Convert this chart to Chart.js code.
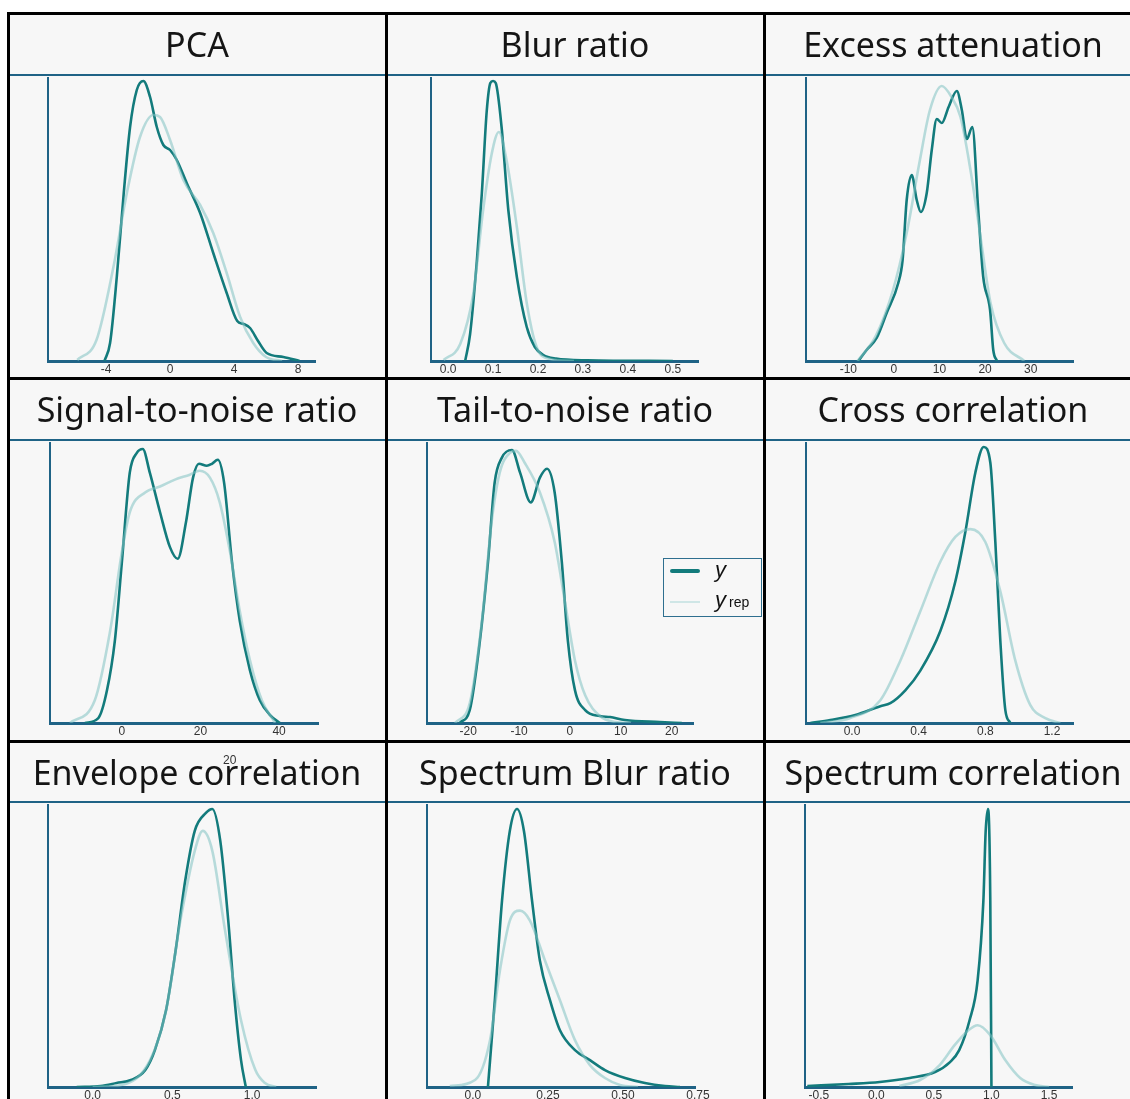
<!DOCTYPE html>
<html>
<head>
<meta charset="utf-8">
<script src="https://cdn.jsdelivr.net/npm/chart.js@4.4.1/dist/chart.umd.min.js"></script>
<style>
  body { margin:0; width:1130px; height:1099px; overflow:hidden; position:relative; background:#fff; font-family:"Noto Sans", sans-serif; }
  #fig { position:absolute; left:8px; top:12px; width:1140px; height:1100px; background:#f7f7f7; }
  .title { position:absolute; text-align:center; font-size:34px; color:#151515; white-space:nowrap; }
  .line { position:absolute; }
  canvas { position:absolute; }
  #legend { position:absolute; left:663px; top:558px; width:97px; height:57px; border:1.5px solid #2e6f8f; background:#f7f7f7; }
  #legend .sw { position:absolute; left:6px; width:30px; }
  #legend .lab { position:absolute; left:51px; font-family:"Liberation Sans", sans-serif; font-style:italic; font-size:22px; color:#111; }
  #legend sub { font-style:normal; font-size:14px; vertical-align:baseline; margin-left:3px; }
  #stray { position:absolute; z-index:5; left:223px; top:753px; font-family:"Liberation Sans", sans-serif; font-size:12px; color:#333; }
</style>
</head>
<body>
<div id="fig"></div>
<div id="stray">20</div>
<script>
// panel titles
var titles = ["PCA", "Blur ratio", "Excess attenuation",
              "Signal-to-noise ratio", "Tail-to-noise ratio", "Cross correlation",
              "Envelope correlation", "Spectrum Blur ratio", "Spectrum correlation"];

// observed density (y) and replicated density (y rep), relative heights
var pcaX    = [-4.1, -3.75, -3.33, -2.9, -2.5, -2.08, -1.67, -1.25, -0.83, -0.42, 0, 0.42, 1.04, 1.88, 2.7, 3.54, 4.2, 4.6, 5.0, 5.5, 6.04, 7.08, 8.1];
var pcaY    = [0, 18, 84, 167, 234, 271, 280, 264, 234, 216, 211, 201, 178, 148, 108, 68, 40, 37, 33, 20, 8, 4, 0];
var pcaRepX = [-5.8, -4.6, -3.54, -2.7, -1.88, -1.04, -0.63, 0, 0.83, 1.88, 2.7, 3.54, 4.38, 5.2, 6.0, 7.0];
var pcaRep  = [1, 21, 94, 168, 224, 246, 244, 221, 181, 156, 128, 88, 44, 18, 4, 0];

var blurX    = [0.038, 0.049, 0.064, 0.075, 0.086, 0.094, 0.1, 0.106, 0.119, 0.134, 0.153, 0.175, 0.193, 0.212, 0.24, 0.31, 0.5];
var blurY    = [0, 27, 100, 167, 250, 278, 280, 278, 234, 151, 84, 34, 14, 6, 2.5, 0.7, 0];
var blurRepX = [-0.01, 0.027, 0.056, 0.078, 0.097, 0.113, 0.13, 0.153, 0.175, 0.197, 0.227, 0.28];
var blurRep  = [1, 17, 67, 151, 207, 229, 201, 134, 58, 14, 2, 0];

var excessX    = [-7.8, -6.0, -3.8, -1.6, 0.95, 1.9, 2.8, 3.9, 5.0, 5.9, 7.2, 8.3, 9.4, 10.5, 12.0, 13.8, 14.9, 16.0, 17.2, 18.5, 19.6, 21.1, 21.8, 22.6];
var excessY    = [0, 11, 23, 48, 78, 101, 161, 186, 161, 149, 168, 211, 242, 238, 254, 270, 251, 222, 234, 151, 84, 51, 11, 0];
var excessRepX = [-8, -4, -0.2, 2.8, 5.7, 7.9, 10.5, 12.5, 14.6, 16.8, 19.0, 21.2, 24.2, 28.6];
var excessRep  = [0, 25, 71, 128, 201, 251, 275, 265, 244, 191, 124, 58, 18, 0];

var snrX    = [-9.4, -6, -3.8, -1.8, 0, 2.0, 3.8, 5.3, 7.1, 9.7, 12.2, 14.2, 16.3, 18.1, 19.6, 21.6, 22.9, 24.4, 26, 28, 30, 32.6, 35.1, 37.7, 40.2];
var snrY    = [0, 5, 33, 83, 163, 253, 273, 277, 253, 213, 178, 166, 203, 248, 262, 260, 262, 266, 243, 163, 103, 53, 23, 8, 0];
var snrRepX = [-13.2, -6.9, -3, 0, 2, 5.9, 9.7, 13.5, 17.3, 19.8, 22.4, 24.9, 27.5, 30, 32.6, 35.6, 39];
var snrRep  = [0, 23, 93, 173, 213, 233, 239, 246, 251, 255, 248, 223, 173, 113, 63, 23, 0];

var tailX    = [-21.7, -19.7, -17.7, -16.1, -14.8, -13.4, -11.4, -9.8, -7.7, -5.9, -4.5, -3, -1.6, -0.4, 1, 3, 5.9, 7.9, 10.8, 17.7, 22];
var tailY    = [0, 13, 83, 163, 243, 268, 276, 253, 223, 248, 257, 233, 163, 83, 33, 13, 7, 6, 3, 1, 0];
var tailRepX = [-22.6, -19.7, -17.3, -15.4, -13.8, -11.8, -10.6, -8.9, -5.9, -3, -1, 1, 3, 5.9, 8.9, 12];
var tailRep  = [0, 20, 103, 203, 253, 273, 275, 263, 233, 183, 123, 63, 28, 7, 1, 0];

var crossX    = [-0.25, -0.13, 0.02, 0.17, 0.23, 0.32, 0.41, 0.53, 0.62, 0.68, 0.74, 0.79, 0.83, 0.86, 0.89, 0.92, 0.95];
var crossY    = [0, 3, 8, 17, 20, 33, 53, 93, 143, 193, 253, 279, 263, 183, 83, 13, 0];
var crossRepX = [-0.19, -0.01, 0.17, 0.29, 0.41, 0.53, 0.62, 0.71, 0.8, 0.89, 0.98, 1.07, 1.16, 1.25];
var crossRep  = [0, 5, 23, 63, 113, 163, 188, 196, 183, 133, 63, 18, 5, 0];

var envX    = [-0.1, 0.05, 0.15, 0.24, 0.33, 0.39, 0.46, 0.52, 0.58, 0.64, 0.71, 0.75, 0.8, 0.85, 0.89, 0.93, 0.96];
var envY    = [0, 1, 4, 7, 17, 37, 77, 137, 207, 257, 275, 279, 247, 167, 87, 27, 0];
var envRepX = [0.0, 0.18, 0.36, 0.46, 0.55, 0.64, 0.69, 0.75, 0.83, 0.93, 1.02, 1.08, 1.15];
var envRep  = [0, 2, 27, 77, 167, 237, 257, 237, 157, 67, 17, 4, 0];

var sblurX    = [0.05, 0.073, 0.097, 0.123, 0.147, 0.17, 0.197, 0.223, 0.257, 0.29, 0.34, 0.39, 0.44, 0.507, 0.573, 0.64, 0.69];
var sblurY    = [0, 87, 187, 257, 279, 257, 187, 127, 87, 57, 37, 27, 17, 9, 4, 1, 0];
var sblurRepX = [-0.077, 0.007, 0.057, 0.09, 0.123, 0.157, 0.19, 0.24, 0.29, 0.34, 0.39, 0.44, 0.49, 0.55];
var sblurRep  = [1, 7, 47, 117, 167, 177, 167, 127, 87, 47, 22, 9, 2, 0];

var scorrX    = [-0.6, -0.24, 0.03, 0.29, 0.51, 0.64, 0.72, 0.81, 0.88, 0.93, 0.95, 0.97, 0.99, 1.0];
var scorrY    = [1, 3, 5, 9, 15, 25, 37, 67, 107, 187, 257, 279, 187, 0];
var scorrRepX = [0.2, 0.38, 0.55, 0.68, 0.8, 0.88, 0.99, 1.12, 1.25, 1.38, 1.5];
var scorrRep  = [1, 7, 22, 42, 57, 62, 52, 27, 9, 2, 0];

// x-axis tick values and their labels
var pcaTicks    = [-4, 0, 4, 8];            var pcaTickText    = ["-4", "0", "4", "8"];
var blurTicks   = [0, 0.1, 0.2, 0.3, 0.4, 0.5]; var blurTickText = ["0.0", "0.1", "0.2", "0.3", "0.4", "0.5"];
var excessTicks = [-10, 0, 10, 20, 30];     var excessTickText = ["-10", "0", "10", "20", "30"];
var snrTicks    = [0, 20, 40];              var snrTickText    = ["0", "20", "40"];
var tailTicks   = [-20, -10, 0, 10, 20];    var tailTickText   = ["-20", "-10", "0", "10", "20"];
var crossTicks  = [0, 0.4, 0.8, 1.2];       var crossTickText  = ["0.0", "0.4", "0.8", "1.2"];
var envTicks    = [0, 0.5, 1.0];            var envTickText    = ["0.0", "0.5", "1.0"];
var sblurTicks  = [0, 0.25, 0.5, 0.75];     var sblurTickText  = ["0.0", "0.25", "0.50", "0.75"];
var scorrTicks  = [-0.5, 0, 0.5, 1.0, 1.5]; var scorrTickText  = ["-0.5", "0.0", "0.5", "1.0", "1.5"];

var series = [
  [pcaX, pcaY, pcaRepX, pcaRep, pcaTicks, pcaTickText],
  [blurX, blurY, blurRepX, blurRep, blurTicks, blurTickText],
  [excessX, excessY, excessRepX, excessRep, excessTicks, excessTickText],
  [snrX, snrY, snrRepX, snrRep, snrTicks, snrTickText],
  [tailX, tailY, tailRepX, tailRep, tailTicks, tailTickText],
  [crossX, crossY, crossRepX, crossRep, crossTicks, crossTickText],
  [envX, envY, envRepX, envRep, envTicks, envTickText],
  [sblurX, sblurY, sblurRepX, sblurRep, sblurTicks, sblurTickText],
  [scorrX, scorrY, scorrRepX, scorrRep, scorrTicks, scorrTickText]
];

// plot boxes on the page (axis left, top, axis right, baseline) and x range
var boxes = [
  {x:48,  top:78,  right:315,  base:361,  min:-7.63, max:9.06},
  {x:431, top:78,  right:698,  base:361,  min:-0.038, max:0.556},
  {x:806, top:78,  right:1073, base:361,  min:-19.3, max:39.3},
  {x:50,  top:443, right:318,  base:723,  min:-18.3, max:49.9},
  {x:427, top:443, right:693,  base:723,  min:-28.1, max:24.2},
  {x:806, top:443, right:1073, base:723,  min:-0.276, max:1.326},
  {x:48,  top:805, right:316,  base:1087, min:-0.28, max:1.4},
  {x:427, top:805, right:695,  base:1087, min:-0.153, max:0.74},
  {x:805, top:805, right:1072, base:1087, min:-0.62, max:1.70}
];

var colCenters = [197, 575, 953];
var bands = [[15, 74], [380, 439], [743, 801]];

function addLine(l, t, w, h, c) {
  var d = document.createElement("div");
  d.className = "line";
  d.style.left = l + "px"; d.style.top = t + "px";
  d.style.width = w + "px"; d.style.height = h + "px";
  d.style.background = c;
  document.body.appendChild(d);
}

function pts(xs, hs) {
  return xs.map(function(x, i) { return {x: x, y: hs[i]}; });
}

boxes.forEach(function(b, i) {
  var s = series[i];
  var pad = 30;
  var cv = document.createElement("canvas");
  var w = b.right - b.x + 2 * pad;
  var h = b.base - b.top + 4 + 26;
  cv.width = w; cv.height = h;
  cv.style.left = (b.x - pad) + "px";
  cv.style.top = (b.top - 4) + "px";
  cv.style.width = w + "px"; cv.style.height = h + "px";
  document.body.appendChild(cv);

  new Chart(cv, {
    type: "line",
    data: {
      datasets: [
        {
          label: "y rep",
          data: pts(s[2], s[3]),
          borderColor: "rgba(130,195,195,0.55)",
          borderWidth: 2.6,
          pointRadius: 0,
          fill: false,
          cubicInterpolationMode: "monotone"
        },
        {
          label: "y",
          data: pts(s[0], s[1]),
          borderColor: "#137b7c",
          borderWidth: 2.6,
          pointRadius: 0,
          fill: false,
          cubicInterpolationMode: "monotone"
        }
      ]
    },
    options: {
      responsive: false,
      animation: false,
      events: [],
      layout: { padding: { left: pad, right: pad, top: 4, bottom: 0 } },
      plugins: { legend: { display: false }, tooltip: { enabled: false } },
      scales: {
        x: {
          type: "linear",
          min: b.min,
          max: b.max,
          afterBuildTicks: function(sc) { sc.ticks = s[4].map(function(v) { return {value: v}; }); },
          afterFit: function(sc) { sc.height = 26; },
          grid: { display: false, drawTicks: false, tickLength: 0 },
          border: { display: true, color: "#1f6386", width: 3 },
          ticks: {
            autoSkip: false, maxRotation: 0, padding: 1, color: "#333",
            font: { size: 12, family: "Liberation Sans" },
            callback: function(v, idx) { return s[5][idx]; }
          }
        },
        y: {
          min: 0,
          max: 283,
          afterFit: function(sc) { sc.width = 0; },
          grid: { display: false },
          border: { display: true, color: "#1f6386", width: 2 },
          ticks: { display: false }
        }
      }
    }
  });
});

// blue rules under the titles, black cell borders
[74, 439, 801].forEach(function(y) { addLine(8, y, 1130, 2, "#1f6386"); });
[12, 377, 740].forEach(function(y) { addLine(7, y, 1130, 3, "#000"); });
[7, 385, 763].forEach(function(x) { addLine(x, 12, 3, 1100, "#000"); });

titles.forEach(function(t, i) {
  var d = document.createElement("div");
  d.className = "title";
  var b = bands[Math.floor(i / 3)];
  d.style.left = (colCenters[i % 3] - 190) + "px";
  d.style.width = "380px";
  d.style.top = b[0] + "px";
  d.style.height = (b[1] - b[0]) + "px";
  d.style.lineHeight = (b[1] - b[0]) + "px";
  d.textContent = t;
  document.body.appendChild(d);
});
</script>
<div id="legend">
  <div class="sw" style="top:10px;height:4px;background:#137b7c;border-radius:2px"></div>
  <div class="lab" style="top:-2px">y</div>
  <div class="sw" style="top:42px;height:2px;background:#cfe6e6"></div>
  <div class="lab" style="top:28px">y<sub>rep</sub></div>
</div>
</body>
</html>
